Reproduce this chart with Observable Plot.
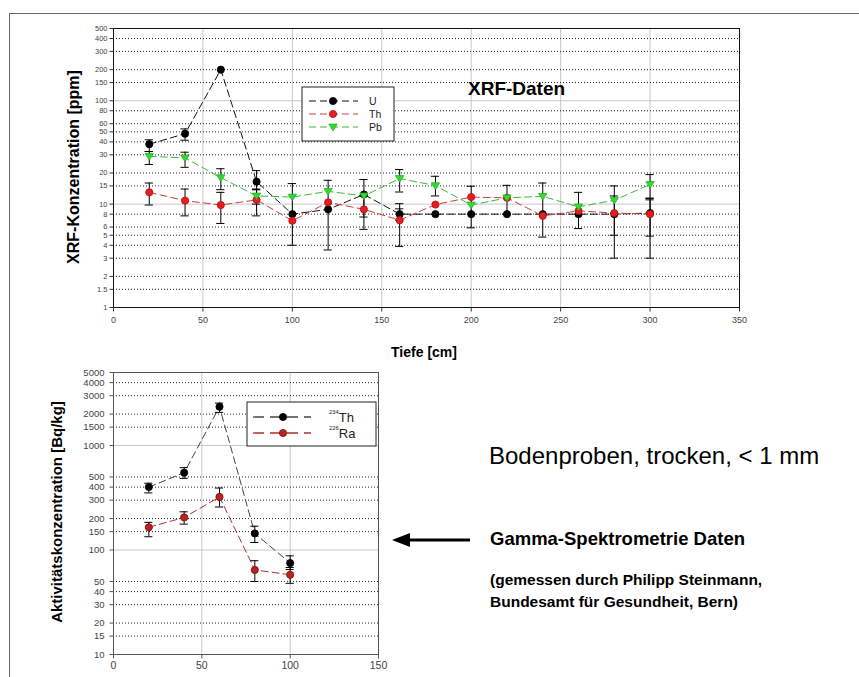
<!DOCTYPE html>
<html><head><meta charset="utf-8">
<script src="https://cdn.jsdelivr.net/npm/d3@7"></script>
<script src="https://cdn.jsdelivr.net/npm/@observablehq/plot@0.6"></script>
<style>
body{margin:0;background:#fff;font-family:"Liberation Sans",Arial,sans-serif}
#page{position:relative;width:859px;height:677px;overflow:hidden;background:#fff}
#border{position:absolute;left:9px;top:13px;width:900px;height:700px;border-left:1px solid #666;border-top:1px solid #666}
.abs{position:absolute;left:0}
</style></head>
<body><div id="page"><div id="border"></div></div>
<script>
// ---------- data: XRF (top chart) ----------
const depthXRF = [20,40,60,80,100,120,140,160,180,200,220,240,260,280,300];
const U    = [38, 48, 200, 16.5, 8, 8.9, 12.4, 8, 8, 8, 8, 8, 8, 8, 8.2];
const U_lo = [32.3, 41.5, null, 13.8, 4, 3.6, null, 7, null, null, null, null, 5.8, 3, 3];
const U_hi = [41.9, 53.4, null, 21.1, 15.8, 17, null, 9, null, null, null, null, 13, 15, 11.4];
const Th   = [13, 10.8, 9.8, 11, 6.9, 10.4, 8.9, 7.0, 9.9, 11.7, 11.5, 7.7, 8.6, 8.2, 8.0];
const Th_lo= [9.8, 7.7, 6.5, 7.7, null, null, 5.7, 3.9, null, 5.9, null, 4.8, null, 5, 4.9];
const Th_hi= [16, 14, 13, 13.8, null, null, 12, 10.1, null, 14.9, null, 16, null, 12, 11];
const Pb   = [29, 28, 18, 12, 11.7, 13.3, 12, 17.7, 15.1, 9.8, 11.5, 11.9, 9.4, 10.9, 15.5];
const Pb_lo= [24.2, 22.7, 13.8, 10, null, null, 7.5, 13.1, 12, null, 8, null, null, null, 11.4];
const Pb_hi= [32.3, 31.8, 22, 14, null, null, 17.3, 21.6, 18.6, null, 15.2, null, null, null, 19.3];
const xTicksTop = [0,50,100,150,200,250,300,350];
const yTicksTop = [1,1.5,2,3,4,5,6,8,10,15,20,30,40,50,60,80,100,150,200,300,400,500];
const yMajorTop = [10,100];
const xGridTop = [50,100,150,200,250,300];

// ---------- data: gamma spectrometry (bottom chart) ----------
const depthGamma = [20,40,60,80,100];
const Th234    = [400, 550, 2350, 144, 75];
const Th234_lo = [352, 485, 2075, 118, 65];
const Th234_hi = [436, 614, 2550, 169, 88];
const Ra226    = [165, 205, 322, 64.5, 58];
const Ra226_lo = [134, 177, 258, 50, 48];
const Ra226_hi = [184, 232, 392, 79, 68];
const xTicksBot = [0,50,100,150];
const yTicksBot = [10,15,20,30,40,50,100,150,200,300,400,500,1000,1500,2000,3000,4000,5000];
const yMajorBot = [100,1000];
const xGridBot = [50,100];

// custom symbols
const triDown = {draw(ctx, size){ const r = Math.sqrt(size/Math.PI);
  ctx.moveTo(-r*1.15,-r*0.8); ctx.lineTo(r*1.15,-r*0.8); ctx.lineTo(0,r*1.05); ctx.closePath(); }};
const tickLeft = {draw(ctx){ ctx.moveTo(-4,0); ctx.lineTo(0,0); }};
const tickDown = {draw(ctx){ ctx.moveTo(0,0); ctx.lineTo(0,4); }};

const topSeries = [
  {name:"U",  sup:"", v:U,  lo:U_lo,  hi:U_hi,  line:"#111",    fill:"#000",    stroke:"#000",    symbol:"circle"},
  {name:"Th", sup:"", v:Th, lo:Th_lo, hi:Th_hi, line:"#c84040", fill:"#e41e1e", stroke:"#b01010", symbol:"circle"},
  {name:"Pb", sup:"", v:Pb, lo:Pb_lo, hi:Pb_hi, line:"#3cb83c", fill:"#2fdc2f", stroke:"#22b022", symbol:triDown}
];
const botSeries = [
  {name:"Th", sup:"234", v:Th234, lo:Th234_lo, hi:Th234_hi, line:"#444",    fill:"#000",    stroke:"#000",    symbol:"circle"},
  {name:"Ra", sup:"226", v:Ra226, lo:Ra226_lo, hi:Ra226_hi, line:"#a83030", fill:"#c02020", stroke:"#701010", symbol:"circle"}
];

function seriesMarks(series, xs, capHalf, dash){
  const marks = [];
  const rows = series.map(s => xs.map((x,i)=>({x, v:s.v[i], lo:s.lo[i], hi:s.hi[i]})));
  series.forEach((s,k)=> marks.push(Plot.line(rows[k], {x:"x", y:"v", stroke:s.line, strokeWidth:1, strokeDasharray:dash})));
  series.forEach((s,k)=>{
    const e = rows[k].filter(d=>d.lo!=null);
    marks.push(Plot.ruleX(e, {x:"x", y1:"lo", y2:"hi", stroke:"#000", strokeWidth:1}));
    marks.push(Plot.ruleY(e, {y:"lo", x1:d=>d.x-capHalf, x2:d=>d.x+capHalf, stroke:"#000", strokeWidth:1}));
    marks.push(Plot.ruleY(e, {y:"hi", x1:d=>d.x-capHalf, x2:d=>d.x+capHalf, stroke:"#000", strokeWidth:1}));
  });
  series.forEach((s,k)=> marks.push(Plot.dot(rows[k], {x:"x", y:"v", r:3.6, fill:s.fill, stroke:s.stroke, strokeWidth:0.8, symbol:s.symbol})));
  return marks;
}
function axisMarks(xTicks, yTicks, xFont, yFont, xDy, yDx, color){
  return [
    Plot.dot(yTicks, {y:d=>d, frameAnchor:"left", symbol:tickLeft, fill:"none", stroke:color, strokeWidth:1}),
    Plot.dot(xTicks, {x:d=>d, frameAnchor:"bottom", symbol:tickDown, fill:"none", stroke:color, strokeWidth:1}),
    Plot.text(yTicks, {y:d=>d, text:d=>String(d), frameAnchor:"left", dx:yDx, textAnchor:"end", fontSize:yFont, fill:"#444"}),
    Plot.text(xTicks, {x:d=>d, text:d=>String(d), frameAnchor:"bottom", dy:xDy, fontSize:xFont, fill:"#444"})
  ];
}

const page = document.getElementById("page");

const topPlot = Plot.plot({
  width:859, height:362, marginLeft:113, marginRight:120, marginTop:28, marginBottom:55,
  style:{background:"transparent", fontFamily:"Liberation Sans, Arial, sans-serif", fontSize:"9px", color:"#333"},
  x:{domain:[0,350], axis:null},
  y:{type:"log", domain:[1,500], axis:null},
  marks:[
    Plot.ruleX(xGridTop, {stroke:"#c8c8c8"}),
    Plot.ruleY(yMajorTop, {stroke:"#c8c8c8"}),
    Plot.ruleY(yTicksTop.filter(t=>!yMajorTop.includes(t) && t!==1 && t!==500), {stroke:"#222", strokeDasharray:"1,2"}),
    Plot.frame({stroke:"#111"}),
    ...axisMarks(xTicksTop, yTicksTop, 9, 7.5, 15, -6, "#333"),
    ...seriesMarks(topSeries, depthXRF, 2.3, "7,4")
  ]
});
topPlot.classList.add("abs"); topPlot.style.top="0px";
page.appendChild(topPlot);

const botPlot = Plot.plot({
  width:859, height:315, marginLeft:113, marginRight:481, marginTop:10, marginBottom:23,
  style:{background:"transparent", fontFamily:"Liberation Sans, Arial, sans-serif", fontSize:"11px", color:"#333"},
  x:{domain:[0,150], axis:null},
  y:{type:"log", domain:[10,5000], axis:null},
  marks:[
    Plot.ruleX(xGridBot, {stroke:"#c8c8c8"}),
    Plot.ruleY(yMajorBot, {stroke:"#c8c8c8"}),
    Plot.ruleY(yTicksBot.filter(t=>!yMajorBot.includes(t) && t!==10 && t!==5000), {stroke:"#222", strokeDasharray:"1,2"}),
    Plot.frame({stroke:"#555"}),
    ...axisMarks(xTicksBot, yTicksBot, 10.5, 9.5, 14, -9, "#555"),
    ...seriesMarks(botSeries, depthGamma, 2.3, "7,4")
  ]
});
botPlot.classList.add("abs"); botPlot.style.top="362px";
page.appendChild(botPlot);

// ---------- overlay: titles, legends, annotations ----------
const ov = d3.select(page).append("svg").attr("class","abs").style("top","0px")
  .attr("width",859).attr("height",677).style("pointer-events","none")
  .attr("font-family","Liberation Sans, Arial, sans-serif");

function txt(x,y,s,size,weight,opts={}){
  const t = ov.append("text").attr("x",x).attr("y",y).attr("font-size",size).attr("font-weight",weight||"normal").attr("fill","#000").text(s);
  if(opts.anchor) t.attr("text-anchor",opts.anchor);
  if(opts.rotate) t.attr("transform",`rotate(-90 ${x} ${y})`).attr("dominant-baseline","central");
  return t;
}
txt(468,95,"XRF-Daten",19,"bold");
txt(424,357,"Tiefe [cm]",14,"bold",{anchor:"middle"});
txt(73,167,"XRF-Konzentration [ppm]",16,"bold",{anchor:"middle",rotate:true});
txt(56,512,"Aktivitätskonzentration [Bq/kg]",15,"bold",{anchor:"middle",rotate:true});
txt(489,464,"Bodenproben, trocken, < 1 mm",24,"normal");
txt(490,545,"Gamma-Spektrometrie Daten",18.5,"bold");
txt(490,585,"(gemessen durch Philipp Steinmann,",15.5,"bold");
txt(490,607,"Bundesamt für Gesundheit, Bern)",15.5,"bold");
// arrow
ov.append("line").attr("x1",470).attr("y1",540).attr("x2",405).attr("y2",540).attr("stroke","#000").attr("stroke-width",3);
ov.append("path").attr("d","M392,540 L410,533 L410,547 Z").attr("fill","#000");

function legend(series, box, rowY, sw, labelX, fontSize, dash, lineW){
  ov.append("rect").attr("x",box[0]).attr("y",box[1]).attr("width",box[2]).attr("height",box[3])
    .attr("fill","#fff").attr("stroke","#222");
  series.forEach((s,i)=>{
    const y = rowY[i];
    ov.append("line").attr("x1",sw[0]).attr("x2",sw[2]).attr("y1",y).attr("y2",y)
      .attr("stroke",s.line).attr("stroke-width",lineW).attr("stroke-dasharray",dash);
    const r=3.6;
    if(s.symbol==="circle") ov.append("circle").attr("cx",sw[1]).attr("cy",y).attr("r",r).attr("fill",s.fill).attr("stroke",s.stroke).attr("stroke-width",0.8);
    else ov.append("path").attr("d",`M${sw[1]-r*1.15},${y-r*0.8} L${sw[1]+r*1.15},${y-r*0.8} L${sw[1]},${y+r*1.05} Z`).attr("fill",s.fill).attr("stroke",s.stroke).attr("stroke-width",0.8);
    const t = ov.append("text").attr("x",labelX).attr("y",y).attr("dominant-baseline","central").attr("font-size",fontSize).attr("fill","#222");
    if(s.sup){ t.append("tspan").attr("font-size",fontSize*0.45).attr("dy",-fontSize*0.35).text(s.sup);
               t.append("tspan").attr("dy",fontSize*0.35).text(s.name); }
    else t.text(s.name);
  });
}
legend(topSeries, [302,87,92,54], [101,114,127], [309,333,358], 369, 10.5, "7,4", 1);
legend(botSeries, [247,402,129,44], [417,433], [253,283,311], 329, 13, "11,6", 1.3);
</script></body></html>
